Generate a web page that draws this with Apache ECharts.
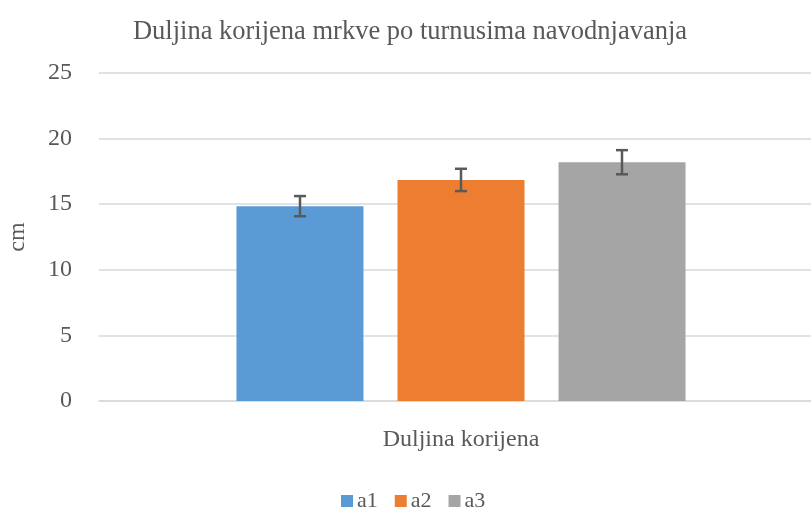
<!DOCTYPE html>
<html>
<head>
<meta charset="utf-8">
<script src="https://cdn.jsdelivr.net/npm/echarts@6/dist/echarts.min.js"></script>
<style>
  html, body { margin: 0; padding: 0; background: #fff; }
  #chart { width: 811px; height: 511px; }
</style>
</head>
<body>
<div id="chart"></div>
<script>
  const categories = ['Duljina korijena'];
  const seriesNames = ['a1', 'a2', 'a3'];
  const means = [14.85, 16.85, 18.2];
  const errors = [0.77, 0.85, 0.92];
  const colors = ['#5b9bd5', '#ed7d31', '#a5a5a5'];
  const yTicks = [0, 5, 10, 15, 20, 25];

  const BAR_W = 127;
  const GAP = 34;

  const chart = echarts.init(document.getElementById('chart'));

  const barSeries = seriesNames.map((name, i) => ({
    name: name,
    type: 'bar',
    data: [means[i]],
    barWidth: BAR_W,
    barGap: (GAP / BAR_W * 100).toFixed(1) + '%',
    itemStyle: { color: colors[i] },
    z: 2,
  }));

  // error bars drawn over the bars, offset to each bar's centre
  const errorSeries = seriesNames.map((name, i) => ({
    type: 'custom',
    name: name + '-err',
    data: [[0, means[i] - errors[i], means[i] + errors[i]]],
    z: 5,
    silent: true,
    renderItem: function (params, api) {
      const off = (i - 1) * (BAR_W + GAP);
      const lo = api.coord([api.value(0), api.value(1)]);
      const hi = api.coord([api.value(0), api.value(2)]);
      const x = lo[0] + off;
      const cap = 6;
      const style = { stroke: '#595959', lineWidth: 2.5 };
      return {
        type: 'group',
        children: [
          { type: 'line', shape: { x1: x, y1: lo[1], x2: x, y2: hi[1] }, style: style },
          { type: 'line', shape: { x1: x - cap, y1: lo[1], x2: x + cap, y2: lo[1] }, style: style },
          { type: 'line', shape: { x1: x - cap, y1: hi[1], x2: x + cap, y2: hi[1] }, style: style },
        ],
      };
    },
  }));

  chart.setOption({
    animation: false,
    title: {
      text: 'Duljina korijena mrkve po turnusima navodnjavanja',
      left: 410,
      textAlign: 'center',
      top: 19,
      padding: 0,
      textStyle: {
        fontFamily: 'Liberation Serif',
        fontSize: 26.5,
        fontWeight: 'normal',
        color: '#595959',
      },
    },
    legend: {
      data: seriesNames,
      top: 490,
      left: 341,
      padding: 0,
      icon: 'rect',
      itemWidth: 12,
      itemHeight: 12,
      itemGap: 17,
      textStyle: {
        fontFamily: 'Liberation Serif',
        fontSize: 22,
        color: '#595959',
        padding: [0, 0, 0, -1],
      },
    },
    grid: {
      left: 99,
      top: 73,
      width: 724,
      height: 328,
      outerBoundsMode: 'none',
      containLabel: false,
    },
    xAxis: {
      type: 'category',
      data: categories,
      axisLine: { lineStyle: { color: '#d9d9d9', width: 1.5 } },
      axisTick: { show: false },
      axisLabel: {
        fontFamily: 'Liberation Serif',
        fontSize: 24,
        color: '#595959',
        margin: 27,
      },
    },
    yAxis: {
      type: 'value',
      min: yTicks[0],
      max: yTicks[yTicks.length - 1],
      interval: 5,
      name: 'cm',
      nameLocation: 'middle',
      nameGap: 69,
      nameRotate: 90,
      nameTextStyle: {
        fontFamily: 'Liberation Serif',
        fontSize: 24,
        color: '#595959',
      },
      axisLine: { show: false },
      axisTick: { show: false },
      splitLine: { lineStyle: { color: '#d9d9d9', width: 1.5 } },
      axisLabel: {
        fontFamily: 'Liberation Serif',
        fontSize: 24,
        color: '#595959',
        margin: 27,
      },
    },
    series: barSeries.concat(errorSeries),
  });
</script>
</body>
</html>
